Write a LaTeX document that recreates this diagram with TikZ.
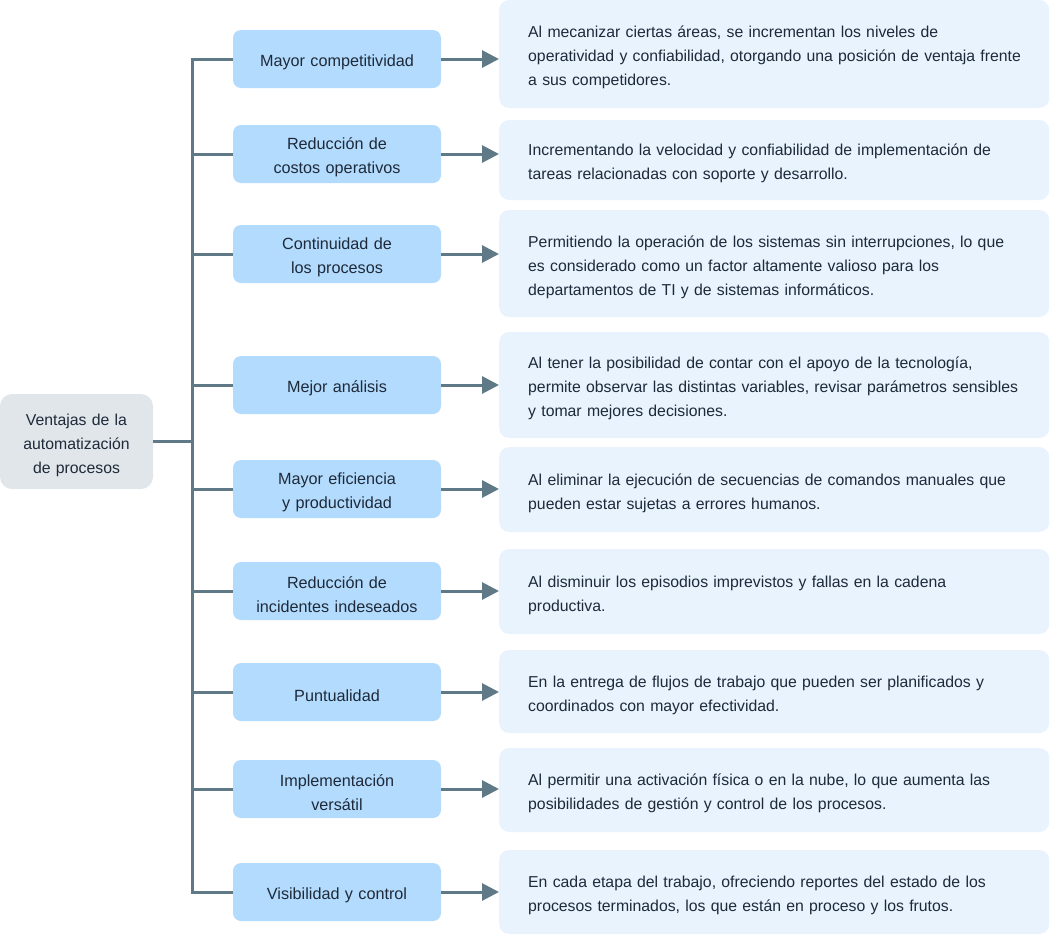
\documentclass[tikz,border=0pt]{standalone}
\usepackage{fontspec}
\setmainfont{Liberation Sans}
\usepackage{tikz}
\usetikzlibrary{positioning}
\usetikzlibrary{arrows.meta}

\definecolor{rootfill}{HTML}{E1E6EA}
\definecolor{midfill}{HTML}{B3DBFD}
\definecolor{descfill}{HTML}{E8F3FD}
\definecolor{linkcol}{HTML}{5F7A86}
\definecolor{textcol}{HTML}{1E2A3A}

\begin{document}
\begin{tikzpicture}[x=1pt, y=-1pt,
		every node/.style={text=textcol, font=\fontsize{15.8}{24}\selectfont, execute at begin node={\rule{0pt}{19pt}}},
		root/.style={fill=rootfill, rounded corners=12pt, minimum width=153pt, minimum height=95pt, text width=153pt, align=center, inner sep=0pt, execute at begin node={\rule{0pt}{13pt}}},
		mid/.style={fill=midfill, rounded corners=8pt, minimum width=208pt, minimum height=58pt, text width=208pt, align=center, inner sep=0pt, font=\fontsize{16.2}{24}\selectfont},
		single/.style={execute at begin node={\rule{0pt}{13pt}}},
		desc/.style={fill=descfill, rounded corners=10pt, anchor=west, text width=492pt, inner xsep=29pt, inner ysep=0pt, align=left},
		link/.style={draw=linkcol, line width=3pt},
		arr/.style={link, -{Triangle[length=17pt, width=17pt]}}]
				\useasboundingbox (0,0) rectangle (1050,935);
				
				\node[root] (R) at (76.5,441.5) {Ventajas de la\\automatización\\de procesos};
				
				\node[mid, single] (M1) at (337,59) {Mayor competitividad};
				\node[mid] (M2) at (337,154) {Reducción de\\costos operativos};
				\node[mid] (M3) at (337,254) {Continuidad de\\los procesos};
				\node[mid, single] (M4) at (337,385) {Mejor análisis};
				\node[mid] (M5) at (337,489) {Mayor eficiencia\\y productividad};
				\node[mid] (M6) at (337,591) {Reducción de\\incidentes indeseados};
				\node[mid, single] (M7) at (337,692) {Puntualidad};
				\node[mid] (M8) at (337,789) {Implementación\\versátil};
				\node[mid, single] (M9) at (337,892) {Visibilidad y control};
				
				\node[desc, minimum height=108pt] (D1) at (499,54) {Al mecanizar ciertas áreas, se incrementan los niveles de\\\mbox{operatividad y confiabilidad, otorgando una posición de ventaja frente}\\a sus competidores.};
				\node[desc, minimum height=80pt] (D2) at (499,160) {Incrementando la velocidad y confiabilidad de implementación de\\tareas relacionadas con soporte y desarrollo.};
				\node[desc, minimum height=107pt] (D3) at (499,263.5) {Permitiendo la operación de los sistemas sin interrupciones, lo que\\es considerado como un factor altamente valioso para los\\departamentos de TI y de sistemas informáticos.};
				\node[desc, minimum height=106pt] (D4) at (499,385) {Al tener la posibilidad de contar con el apoyo de la tecnología,\\\mbox{permite observar las distintas variables, revisar parámetros sensibles}\\y tomar mejores decisiones.};
				\node[desc, minimum height=85pt] (D5) at (499,489.5) {Al eliminar la ejecución de secuencias de comandos manuales que\\pueden estar sujetas a errores humanos.};
				\node[desc, minimum height=85pt] (D6) at (499,591.5) {Al disminuir los episodios imprevistos y fallas en la cadena\\productiva.};
				\node[desc, minimum height=83pt] (D7) at (499,691.5) {En la entrega de flujos de trabajo que pueden ser planificados y\\coordinados con mayor efectividad.};
				\node[desc, minimum height=84pt] (D8) at (499,790) {Al permitir una activación física o en la nube, lo que aumenta las\\posibilidades de gestión y control de los procesos.};
				\node[desc, minimum height=84pt] (D9) at (499,892) {En cada etapa del trabajo, ofreciendo reportes del estado de los\\procesos terminados, los que están en proceso y los frutos.};
				
				\coordinate (top) at (192,59);
				\coordinate (bot) at (192,892);
				
				\draw[link] (M1.west) -- (top) -- (bot) -- (M9.west);
				\draw[link] (R.east) -- (R.east -| top);
				\draw[link] (M2.west) -- (M2.west -| top);
				\draw[link] (M3.west) -- (M3.west -| top);
				\draw[link] (M4.west) -- (M4.west -| top);
				\draw[link] (M5.west) -- (M5.west -| top);
				\draw[link] (M6.west) -- (M6.west -| top);
				\draw[link] (M7.west) -- (M7.west -| top);
				\draw[link] (M8.west) -- (M8.west -| top);
				
				\draw[arr] (M1.east) -- (M1.east -| D1.west);
				\draw[arr] (M2.east) -- (M2.east -| D2.west);
				\draw[arr] (M3.east) -- (M3.east -| D3.west);
				\draw[arr] (M4.east) -- (M4.east -| D4.west);
				\draw[arr] (M5.east) -- (M5.east -| D5.west);
				\draw[arr] (M6.east) -- (M6.east -| D6.west);
				\draw[arr] (M7.east) -- (M7.east -| D7.west);
				\draw[arr] (M8.east) -- (M8.east -| D8.west);
				\draw[arr] (M9.east) -- (M9.east -| D9.west);
			\end{tikzpicture}
\end{document}
